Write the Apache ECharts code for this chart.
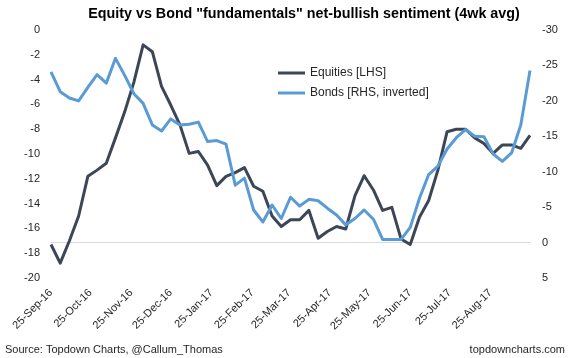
<!DOCTYPE html>
<html>
<head>
<meta charset="utf-8">
<script src="https://cdn.jsdelivr.net/npm/echarts@6/dist/echarts.min.js"></script>
<style>
html,body{margin:0;padding:0;background:#fff;}
#chart{width:570px;height:358px;}
</style>
</head>
<body>
<div id="chart"></div>
<script>
// Weekly observation dates
const dates = [
  '2016-09-25','2016-10-02','2016-10-09','2016-10-16','2016-10-23','2016-10-30',
  '2016-11-06','2016-11-13','2016-11-20','2016-11-27','2016-12-04','2016-12-11',
  '2016-12-18','2016-12-25','2017-01-01','2017-01-08','2017-01-15','2017-01-22',
  '2017-01-29','2017-02-05','2017-02-12','2017-02-19','2017-02-26','2017-03-05',
  '2017-03-12','2017-03-19','2017-03-26','2017-04-02','2017-04-09','2017-04-16',
  '2017-04-23','2017-04-30','2017-05-07','2017-05-14','2017-05-21','2017-05-28',
  '2017-06-04','2017-06-11','2017-06-18','2017-06-25','2017-07-02','2017-07-09',
  '2017-07-16','2017-07-23','2017-07-30','2017-08-06','2017-08-13','2017-08-20',
  '2017-08-27','2017-09-03','2017-09-10','2017-09-17','2017-09-24'
];
// Equities [LHS]
const equities = [
  -17.3, -18.8, -17.0, -15.0, -11.8, -11.3, -10.75, -8.7, -6.6, -4.2,
  -1.2, -1.75, -4.55, -6.05, -7.65, -9.95, -9.8, -10.9, -12.55, -11.8,
  -11.5, -11.1, -12.6, -13.0, -15.0, -15.85, -15.3, -15.3, -14.55, -16.8,
  -16.25, -15.85, -16.05, -13.35, -11.75, -12.9, -14.55, -14.3, -16.85, -17.3,
  -15.1, -13.75, -11.3, -8.2, -8.0, -8.0, -8.7, -9.15, -9.95, -9.27,
  -9.27, -9.54, -8.5
];
// Bonds [RHS, inverted]
const bonds = [
  -24.1, -21.3, -20.4, -20.0, -21.9, -23.7, -22.5, -26.0, -23.6, -21.0,
  -19.65, -16.6, -15.75, -17.45, -16.6, -16.7, -17.0, -14.25, -14.4, -13.9,
  -8.1, -9.1, -4.6, -2.9, -5.3, -3.4, -6.4, -5.15, -6.1, -5.9,
  -4.85, -3.9, -2.5, -3.4, -4.6, -3.3, -0.45, -0.45, -0.45, -2.15,
  -6.25, -9.6, -10.8, -13.2, -14.8, -15.95, -15.0, -14.95, -12.5, -11.45,
  -12.65, -16.6, -24.3
];
// X tick positions and labels
const tickDates = [
  '2016-09-25','2016-10-25','2016-11-25','2016-12-25','2017-01-25','2017-02-25',
  '2017-03-25','2017-04-25','2017-05-25','2017-06-25','2017-07-25','2017-08-25'
];
const tickLabels = [
  '25-Sep-16','25-Oct-16','25-Nov-16','25-Dec-16','25-Jan-17','25-Feb-17',
  '25-Mar-17','25-Apr-17','25-May-17','25-Jun-17','25-Jul-17','25-Aug-17'
];

function ts(s) {
  const p = s.split('-').map(Number);
  return Date.UTC(p[0], p[1] - 1, p[2]);
}
const xs = dates.map(ts);
const tickValues = tickDates.map(ts);
const eqData = equities.map((v, i) => [xs[i], v]);
const bdData = bonds.map((v, i) => [xs[i], v]);

const FONT = 'Liberation Sans, Arial, sans-serif';
const chart = echarts.init(document.getElementById('chart'), null, {renderer: 'canvas'});
chart.setOption({
  animation: false,
  backgroundColor: '#ffffff',
  textStyle: {fontFamily: FONT},
  title: {
    text: 'Equity vs Bond "fundamentals" net-bullish sentiment (4wk avg)',
    left: 304,
    textAlign: 'center',
    top: 7,
    padding: 0,
    textStyle: {fontFamily: FONT, fontSize: 14.3, fontWeight: 'bold', color: '#000000'}
  },
  legend: {
    orient: 'vertical',
    left: 278,
    top: 66,
    itemWidth: 27,
    itemHeight: 3,
    itemGap: 6,
    icon: 'rect',
    padding: 0,
    textStyle: {fontFamily: FONT, fontSize: 12, color: '#262626', lineHeight: 14},
    data: ['Equities [LHS]', 'Bonds [RHS, inverted]']
  },
  grid: {left: 51, right: 40, top: 30, bottom: 80, containLabel: false},
  xAxis: [
    {
      type: 'value',
      position: 'bottom',
      min: xs[0],
      max: xs[xs.length - 1],
      axisLine: {show: false},
      axisTick: {show: false},
      splitLine: {show: false},
      axisLabel: {
        customValues: tickValues,
        rotate: 45,
        margin: 13,
        fontFamily: FONT,
        fontSize: 11,
        color: '#262626',
        formatter: function (val) {
          const k = tickValues.indexOf(val);
          return k >= 0 ? tickLabels[k] : '';
        }
      }
    },
    {
      type: 'value',
      position: 'top',
      min: xs[0],
      max: xs[xs.length - 1],
      axisLine: {show: true, lineStyle: {color: '#d9d9d9', width: 1}},
      axisTick: {show: false},
      axisLabel: {show: false},
      splitLine: {show: false}
    }
  ],
  yAxis: [
    {
      type: 'value',
      position: 'left',
      min: -20,
      max: 0,
      interval: 2,
      axisLine: {show: false},
      axisTick: {show: false},
      splitLine: {show: false},
      axisLabel: {margin: 11, fontFamily: FONT, fontSize: 11, color: '#262626'}
    },
    {
      type: 'value',
      position: 'right',
      inverse: true,
      min: -30,
      max: 5,
      interval: 5,
      axisLine: {show: false},
      axisTick: {show: false},
      splitLine: {show: false},
      axisLabel: {margin: 12, fontFamily: FONT, fontSize: 11, color: '#262626'}
    }
  ],
  series: [
    {
      name: 'Equities [LHS]',
      type: 'line',
      xAxisIndex: 0,
      yAxisIndex: 0,
      data: eqData,
      showSymbol: false,
      symbol: 'none',
      itemStyle: {color: '#3d4657'},
      lineStyle: {color: '#3d4657', width: 3, join: 'round'}
    },
    {
      name: 'Bonds [RHS, inverted]',
      type: 'line',
      xAxisIndex: 0,
      yAxisIndex: 1,
      data: bdData,
      showSymbol: false,
      symbol: 'none',
      itemStyle: {color: '#5b9bd5'},
      lineStyle: {color: '#5b9bd5', width: 3, join: 'round'}
    }
  ],
  graphic: [
    {
      type: 'text',
      left: 5,
      top: 344,
      style: {text: 'Source: Topdown Charts, @Callum_Thomas', font: '11px ' + FONT, fill: '#262626'}
    },
    {
      type: 'text',
      right: 5,
      top: 344,
      style: {text: 'topdowncharts.com', font: '11px ' + FONT, fill: '#262626'}
    }
  ]
});
</script>
</body>
</html>
